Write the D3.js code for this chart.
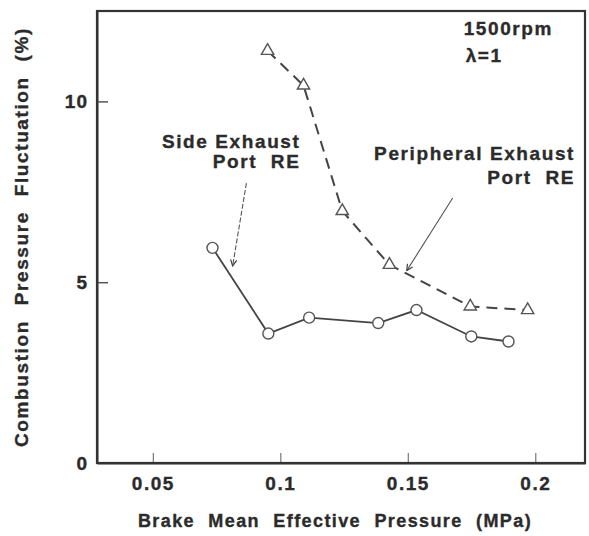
<!DOCTYPE html>
<html><head><meta charset="utf-8">
<script src="https://cdn.jsdelivr.net/npm/d3@7"></script>
<style>
body{margin:0;background:#fff;}
svg text{font-family:"Liberation Sans",Arial,Helvetica,sans-serif;font-weight:bold;fill:#2b2b2b;stroke:#2b2b2b;stroke-width:0.35px;}
</style></head>
<body><svg id="c" width="589" height="536"></svg>
<script>
// Data
const sideBMEP = [0.0734, 0.0953, 0.1113, 0.1384, 0.1534, 0.1749, 0.1895];
const sideCPF  = [5.95, 3.58, 4.02, 3.87, 4.23, 3.50, 3.36];
const periBMEP = [0.0950, 0.1091, 0.1243, 0.1428, 0.1745, 0.1970];
const periCPF  = [11.40, 10.44, 6.97, 5.48, 4.33, 4.23];
const xTicks = [0.05, 0.1, 0.15, 0.2];
const xTickLabels = ["0.05", "0.1", "0.15", "0.2"];
const yTicks = [0, 5, 10];
const yTickLabels = ["0", "5", "10"];

const W = 589, H = 536;
const m = {left: 97, top: 11, right: 4, bottom: 73};
const svg = d3.select("#c");
const x = d3.scaleLinear().domain([0.0281, 0.2195]).range([m.left, W - m.right]);
const y = d3.scaleLinear().domain([0, 12.5]).range([H - m.bottom, m.top]);
const ink = "#3a3a3a";
const x0 = x.range()[0], x1 = x.range()[1], yb = y.range()[0], yt = y.range()[1];

// axes
const xAxis = d3.axisBottom(x).tickValues(xTicks).tickFormat((d, i) => xTickLabels[i])
  .tickSizeInner(-10).tickSizeOuter(0).tickPadding(14);
const gx = svg.append("g").attr("transform", `translate(0,${yb})`).call(xAxis);
gx.select(".domain").attr("stroke", ink).attr("stroke-width", 2);
gx.selectAll(".tick line").attr("stroke", "#777").attr("stroke-width", 1.2);
gx.selectAll(".tick text").attr("font-size", 19).attr("letter-spacing", "1.5px");

const yAxis = d3.axisLeft(y).tickValues(yTicks).tickFormat((d, i) => yTickLabels[i])
  .tickSizeInner(-11).tickSizeOuter(0).tickPadding(9);
const gy = svg.append("g").attr("transform", `translate(${x0},0)`).call(yAxis);
gy.select(".domain").attr("stroke", ink).attr("stroke-width", 2);
gy.selectAll(".tick line").attr("stroke", "#555").attr("stroke-width", 1.5);
gy.selectAll(".tick text").attr("font-size", 19).attr("letter-spacing", "1px");
gy.selectAll(".tick").filter(d => d === 0).select("line").remove();
gx.attr("font-family", null);
gy.attr("font-family", null);

// axis titles
svg.append("text").attr("x", (x0 + x1) / 2 - 6).attr("y", 527)
  .attr("text-anchor", "middle").attr("font-size", 18).attr("letter-spacing", "1.4px")
  .attr("word-spacing", "7px").text("Brake Mean Effective Pressure (MPa)");
svg.append("text").attr("transform", `translate(28,${(yt + yb) / 2}) rotate(-90)`)
  .attr("text-anchor", "middle").attr("font-size", 19).attr("letter-spacing", "1.6px")
  .attr("word-spacing", "8px").text("Combustion Pressure Fluctuation (%)");

// lines
const side = sideBMEP.map((v, i) => [v, sideCPF[i]]);
const peri = periBMEP.map((v, i) => [v, periCPF[i]]);
const line = d3.line().x(d => x(d[0])).y(d => y(d[1]));
svg.append("path").datum(peri).attr("d", line).attr("fill", "none")
  .attr("stroke", "#444").attr("stroke-width", 2).attr("stroke-dasharray", "11,7");
svg.append("path").datum(side).attr("d", line).attr("fill", "none")
  .attr("stroke", "#444").attr("stroke-width", 1.8);

// markers
svg.selectAll(".circ").data(side).join("circle").attr("class", "circ")
  .attr("cx", d => x(d[0])).attr("cy", d => y(d[1])).attr("r", 5.5)
  .attr("fill", "#fff").attr("stroke", "#555").attr("stroke-width", 1.4);
const tri = d3.symbol().type(d3.symbolTriangle).size(66);
svg.selectAll(".tri").data(peri).join("path").attr("class", "tri")
  .attr("transform", d => `translate(${x(d[0])},${y(d[1])})`).attr("d", tri)
  .attr("fill", "#fff").attr("stroke", "#555").attr("stroke-width", 1.4);

// annotations (data coordinates)
const defs = svg.append("defs");
defs.append("marker").attr("id", "arr").attr("viewBox", "0 0 10 10").attr("refX", 9).attr("refY", 5)
  .attr("markerWidth", 7).attr("markerHeight", 7).attr("orient", "auto")
  .append("path").attr("d", "M1,1 L9,5 L1,9").attr("fill", "none").attr("stroke", "#444").attr("stroke-width", 1.6);

const sideLeader = [[0.0867, 7.74], [0.0813, 5.45]];
const periLeader = [[0.1676, 7.33], [0.1496, 5.32]];
svg.append("line").attr("x1", x(sideLeader[0][0])).attr("y1", y(sideLeader[0][1]))
  .attr("x2", x(sideLeader[1][0])).attr("y2", y(sideLeader[1][1]))
  .attr("stroke", "#555").attr("stroke-width", 1.1).attr("stroke-dasharray", "5,2")
  .attr("marker-end", "url(#arr)");
svg.append("line").attr("x1", x(periLeader[0][0])).attr("y1", y(periLeader[0][1]))
  .attr("x2", x(periLeader[1][0])).attr("y2", y(periLeader[1][1]))
  .attr("stroke", "#555").attr("stroke-width", 1.1)
  .attr("marker-end", "url(#arr)");

const labels = [
  {t: "Side Exhaust", v: [0.1079, 8.70], a: "end"},
  {t: "Port  RE", v: [0.1079, 8.15], a: "end"},
  {t: "Peripheral Exhaust", v: [0.2156, 8.37], a: "end"},
  {t: "Port  RE", v: [0.2156, 7.71], a: "end"},
  {t: "1500rpm", v: [0.1719, 11.85], a: "start"},
  {t: "λ=1", v: [0.1727, 11.10], a: "start"}
];
svg.selectAll(".lab").data(labels).join("text").attr("class", "lab")
  .attr("x", d => x(d.v[0])).attr("y", d => y(d.v[1])).attr("text-anchor", d => d.a)
  .attr("font-size", 19).attr("letter-spacing", "1.6px").style("white-space", "pre")
  .text(d => d.t);

// frame
svg.append("rect").attr("x", x0).attr("y", yt).attr("width", x1 - x0).attr("height", yb - yt)
  .attr("fill", "none").attr("stroke", "#333").attr("stroke-width", 2.2);
</script></body></html>
